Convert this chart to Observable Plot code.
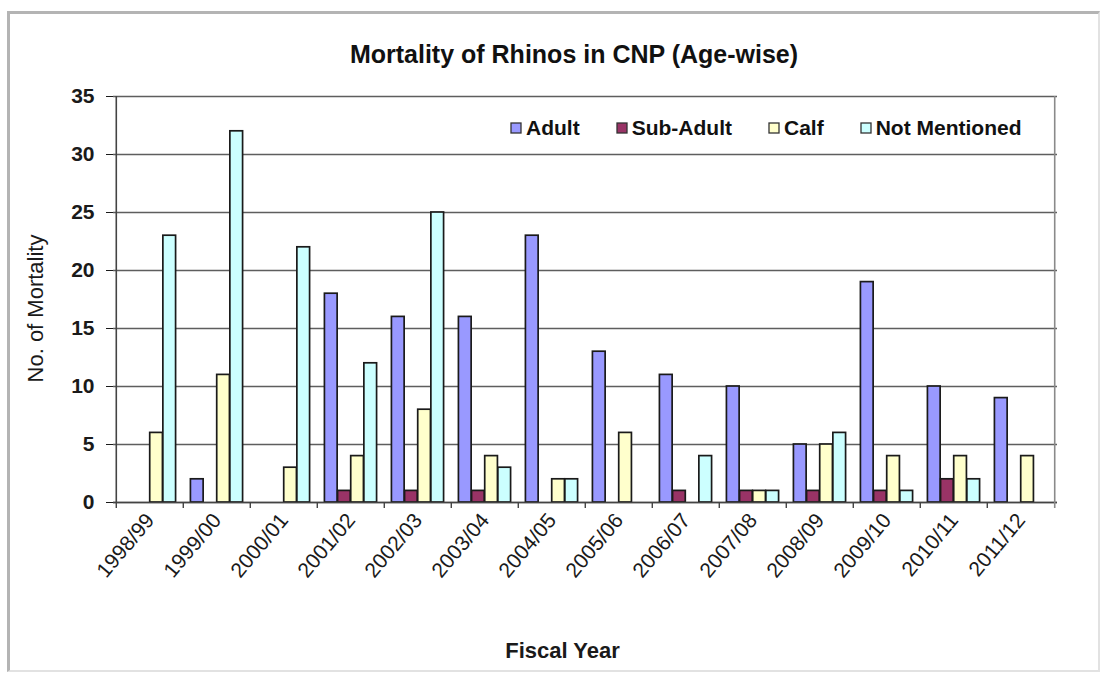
<!DOCTYPE html>
<html>
<head>
<meta charset="utf-8">
<script src="https://cdn.jsdelivr.net/npm/d3@7"></script>
<script src="https://cdn.jsdelivr.net/npm/@observablehq/plot@0.6"></script>
<style>
  body { margin: 0; background: #fff; }
  #chart {
    position: relative; width: 1108px; height: 674px; overflow: hidden; background: #fff;
    font-family: "Liberation Sans", Arial, sans-serif;
  }
  #border {
    position: absolute; left: 7px; top: 11px; width: 1088px; height: 656px;
    border-left: 3px solid #b4b4b4; border-top: 3px solid #b4b4b4;
    border-right: 2px solid #e2e2e2; border-bottom: 2px solid #e2e2e2;
  }
  #title {
    position: absolute; top: 40px; left: 0; width: 1148px; text-align: center;
    font-weight: bold; font-size: 25px; color: #111;
  }
  #plot { position: absolute; left: 0; top: 0; }
  #legend { position: absolute; left: 511px; top: 111px; }
  #legend .lg-swatches { font-family: inherit; font-size: 21px; font-weight: bold; color: #111; }
  #legend .lg-swatch { margin-right: 37px; }
  #legend .lg-swatch svg { margin-right: 5px; overflow: visible; }
  #legend .lg-swatch svg rect { stroke: #333; stroke-width: 1.3px; }
</style>
</head>
<body>
<div id="chart">
  <div id="border"></div>
  <div id="plot"></div>
  <div id="title">Mortality of Rhinos in CNP (Age-wise)</div>
  <div id="legend"></div>
</div>
<script>
// Fiscal years and rhino deaths per age class
const years = ["1998/99", "1999/00", "2000/01", "2001/02", "2002/03", "2003/04", "2004/05",
               "2005/06", "2006/07", "2007/08", "2008/09", "2009/10", "2010/11", "2011/12"];
const series = ["Adult", "Sub-Adult", "Calf", "Not Mentioned"];
const colors = ["#9999ff", "#993366", "#ffffcc", "#ccffff"];
const adult        = [0, 2, 0, 18, 16, 16, 23, 13, 11, 10, 5, 19, 10, 9];
const subAdult     = [0, 0, 0, 1, 1, 1, 0, 0, 1, 1, 1, 1, 2, 0];
const calf         = [6, 11, 3, 4, 8, 4, 2, 6, 0, 1, 5, 4, 4, 4];
const notMentioned = [23, 32, 22, 12, 25, 3, 2, 0, 4, 1, 6, 1, 2, 0];
const yTicks = [0, 5, 10, 15, 20, 25, 30, 35];

const seriesValues = [adult, subAdult, calf, notMentioned];
const rows = series.flatMap((s, k) =>
  years.map((year, i) => ({year, series: s, k, value: seriesValues[k][i]})));

// layout
const W = 1108, H = 674;
const mLeft = 113, mRight = 51, mTop = 96, mBottom = 172;
const band = (W - mLeft - mRight) / years.length;
const outerGap = 0.11 * band;
const barW = (band - 2 * outerGap) / series.length;
const pxPerUnit = (H - mTop - mBottom) / 35;
const tickLen = 6 / pxPerUnit;

const barMarks = series.map((s, k) => Plot.barY(
  rows.filter(d => d.k === k && d.value > 0),
  {
    x: "year", y: "value", fill: colors[k],
    stroke: "#1a1a1a", strokeWidth: 1.7,
    insetLeft: outerGap + k * barW,
    insetRight: band - outerGap - (k + 1) * barW
  }
));

const chart = Plot.plot({
  width: W, height: H,
  marginLeft: mLeft, marginRight: mRight, marginTop: mTop, marginBottom: mBottom,
  style: {fontFamily: "'Liberation Sans', Arial, sans-serif", color: "#1a1a1a", background: "transparent"},
  x: {type: "band", domain: years, padding: 0},
  y: {domain: [0, 35]},
  marks: [
    // horizontal gridlines
    Plot.ruleY(yTicks, {stroke: "#5e5e5e", strokeWidth: 1.6}),
    ...barMarks,
    // baseline and category boundary ticks
    Plot.ruleY([0], {stroke: "#444", strokeWidth: 1.6}),
    Plot.ruleX(years, {dx: -band / 2, y1: -tickLen, y2: 0, stroke: "#444", strokeWidth: 1.4}),
    Plot.ruleX([years[0]], {dx: -band / 2, y1: 0, y2: 35, stroke: "#444", strokeWidth: 1.6}),
    Plot.ruleX([years[years.length - 1]], {dx: band / 2, y1: -tickLen, y2: 35, stroke: "#8a8a8a", strokeWidth: 1.6}),
    Plot.axisY({ticks: yTicks, tickSize: 7, tickPadding: 12, fontSize: 21, fontWeight: "bold", label: null, tickFormat: d => d}),
    Plot.axisX({tickSize: 0, tickRotate: -50, tickPadding: 14, fontSize: 21, label: null}),
    Plot.text(["No. of Mortality"], {frameAnchor: "left", textAnchor: "middle", rotate: -90, dx: -78, dy: 9, fontSize: 22}),
    Plot.text(["Fiscal Year"], {frameAnchor: "bottom", dx: -23, dy: 155, fontSize: 22, fontWeight: "bold"})
  ]
});
document.getElementById("plot").appendChild(chart);

const legend = Plot.legend({
  color: {type: "ordinal", domain: series, range: colors},
  legend: "swatches", swatchSize: 10, className: "lg"
});
document.getElementById("legend").appendChild(legend);
</script>
</body>
</html>
